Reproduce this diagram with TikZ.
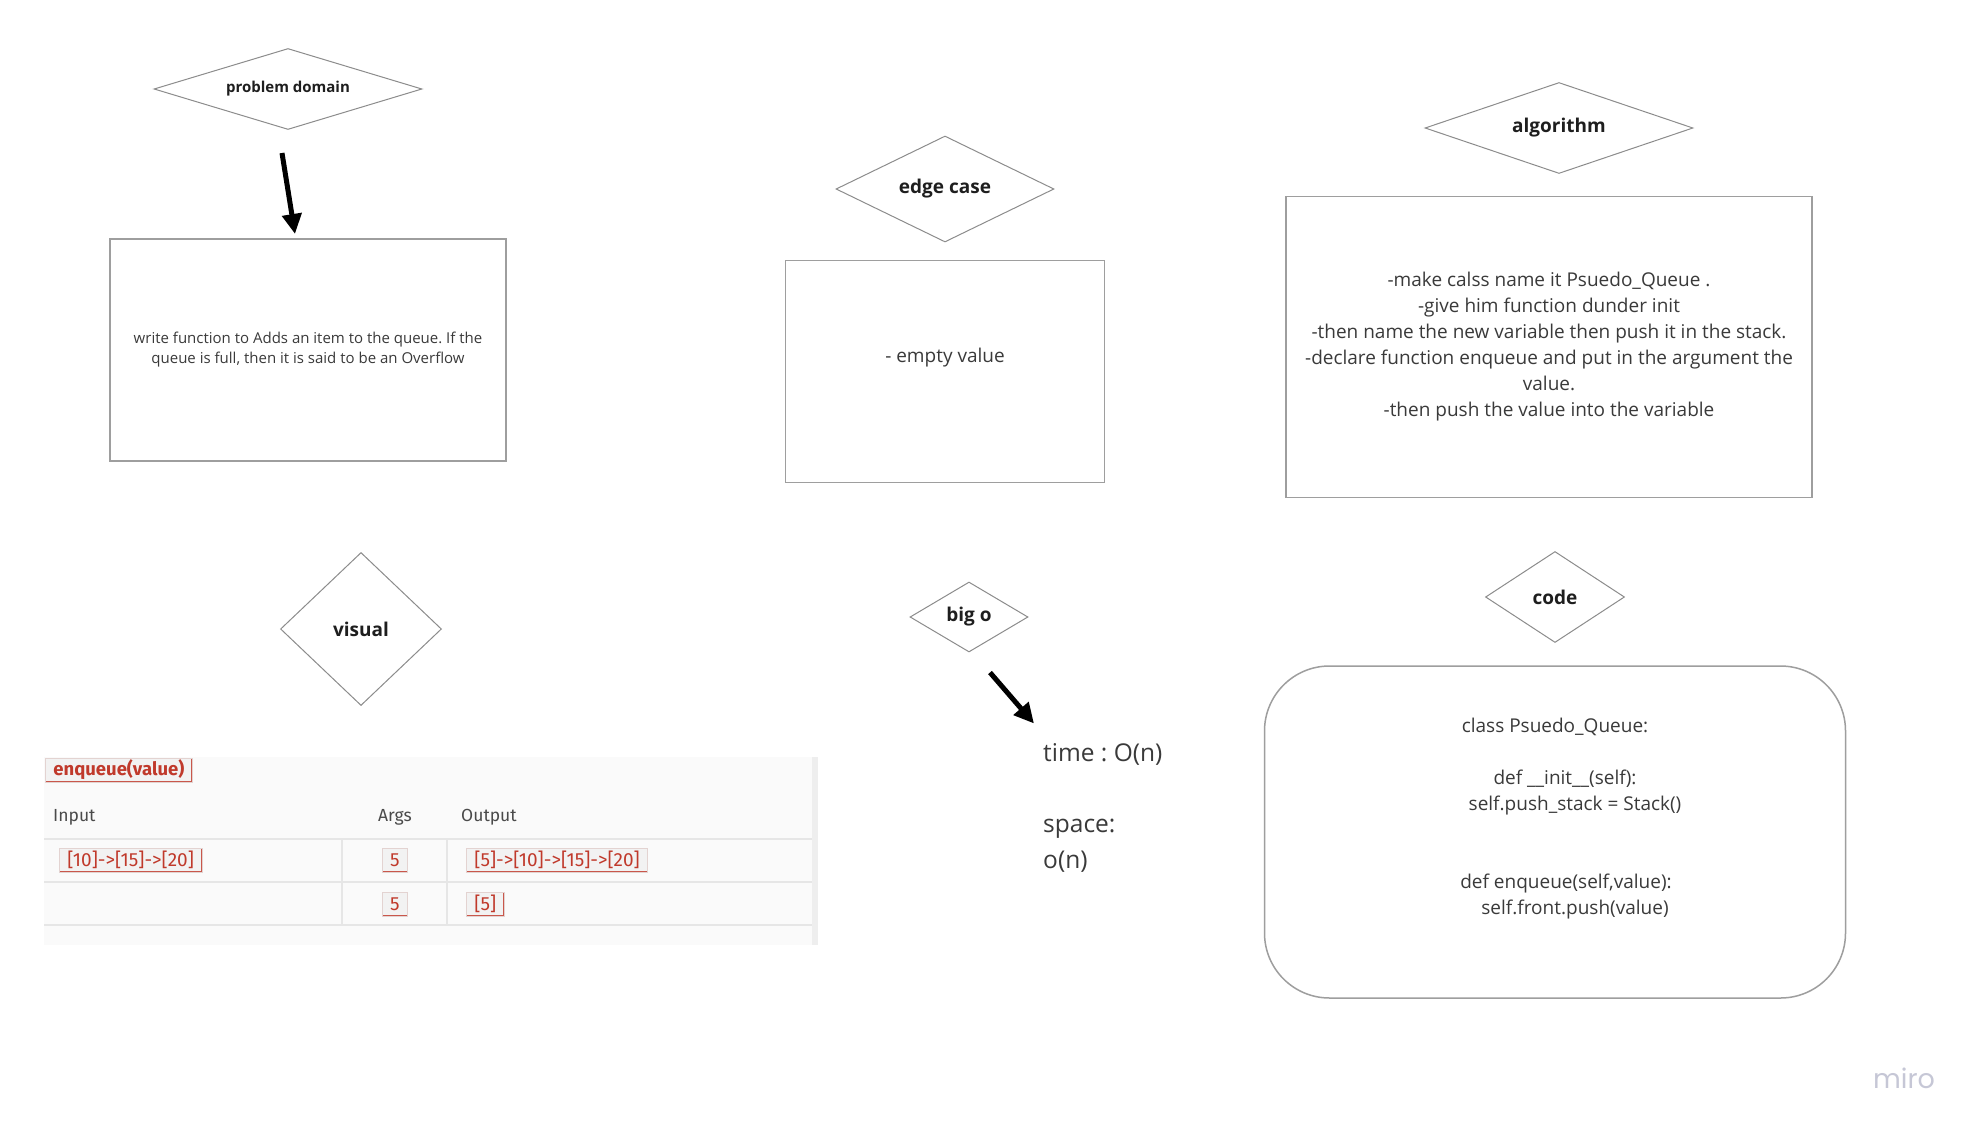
\documentclass[tikz,border=0pt]{standalone}
\usepackage{fontspec}
\setmainfont{Open Sans}
\newfontfamily\tablefont{Fira Sans}
\newfontfamily\logofont{Poppins}
\usepackage{xcolor}
\usepackage{tikz}
\usetikzlibrary{shapes,arrows.meta,positioning}
\frenchspacing

\definecolor{diamondgray}{HTML}{8C8C8C}
\definecolor{boxgray}{HTML}{9E9E9E}
\definecolor{bodytext}{HTML}{3A3A3A}
\definecolor{labelblack}{HTML}{1E1E1E}
\definecolor{chipred}{HTML}{C0392B}
\definecolor{chipfill}{HTML}{F2F2F2}
\definecolor{chipedge}{HTML}{E3D3D1}
\definecolor{tablebg}{HTML}{FAFAFA}
\definecolor{tableline}{HTML}{E6E6E6}
\definecolor{tableedge}{HTML}{EEEEEE}
\definecolor{headtext}{HTML}{4A4A4A}
\definecolor{mirogray}{HTML}{C6C7D6}

\begin{document}
\begin{tikzpicture}[
    x=1pt, y=-1pt,
    decision/.style={diamond, draw=diamondgray, line width=1pt, inner sep=0pt, text=labelblack, font=\fontsize{19pt}{22pt}\selectfont\bfseries},
    note/.style={rectangle, draw=boxgray, line width=1.5pt, align=center, text=bodytext, font=\fontsize{19pt}{26pt}\selectfont},
    plain/.style={align=center, text=bodytext, inner sep=0pt, font=\fontsize{19pt}{26pt}\selectfont},
    chip/.style={rectangle, fill=chipfill, draw=chipedge, line width=0.8pt, text=chipred, inner xsep=8pt, inner ysep=0pt, minimum height=24pt, font=\tablefont\fontsize{19pt}{22pt}\selectfont,
        path picture={\draw[chipred!85, line width=2.4pt] (path picture bounding box.north east) -- (path picture bounding box.south east) -- (path picture bounding box.south west);}},
    head/.style={anchor=west, text=headtext, inner sep=0pt, font=\tablefont\fontsize{17.5pt}{20pt}\selectfont},
    bigarrow/.style={-{Triangle[length=20pt,width=19pt]}, line width=5pt}
]
\fill[white] (0,0) rectangle (1981,1135);
\useasboundingbox (0,0) rectangle (1981,1135);

% Top row - diamonds and their boxes
\node[decision, font=\fontsize{15pt}{18pt}\selectfont\bfseries, minimum width=268pt, minimum height=81pt, aspect=3.3] (pd) at (288,89) {problem domain};
\node[note, minimum width=396pt, minimum height=222pt, font=\fontsize{15pt}{20pt}\selectfont, below=108pt of pd, xshift=20pt] (pbox) {write function to Adds an item to the queue. If the\\queue is full, then it is said to be an Overflow};

\node[decision, minimum width=218pt, minimum height=106pt, aspect=2.05] (edge) at (945,189) {edge case};
\node[note, minimum width=319pt, minimum height=222pt, below=17pt of edge] (ebox) {};
\node[plain] (etxt) at ([yshift=14pt]ebox.center) {- empty value};

\node[decision, minimum width=268pt, minimum height=91pt, aspect=2.95] (algo) at (1559,128) {algorithm};
\node[note, minimum width=526pt, minimum height=301pt] (abox) at (1549,347) {-make calss name it Psuedo\_Queue .\\-give him function dunder init\\-then name the new variable then push it in the stack.\\-declare function enqueue and put in the argument the\\value.\\-then push the value into the variable};

% Bottom row - visual, big o and code
\node[decision, minimum width=161pt, minimum height=153pt, aspect=1.05] (vis) at (361,629) {visual};
\node[decision, minimum width=118pt, minimum height=70pt, aspect=1.7] (bigo) at (969,617) {big o};
\node[decision, minimum width=139pt, minimum height=91pt, aspect=1.53] (code) at (1555,597) {code};

\node[plain, align=left, anchor=west, font=\fontsize{24.5pt}{35.5pt}\selectfont] (cost) at (1043,808) {time : O(n)\\[35.5pt]space:\\o(n)};

\node[rectangle, draw=boxgray, line width=1.5pt, rounded corners=65pt, minimum width=581pt, minimum height=332pt] (cbox) at (1555,832) {};
\node[plain] (ctxt) at ([yshift=13pt]cbox.center) {class Psuedo\_Queue:\\[26pt]\hspace*{20pt}def \_\_init\_\_(self):\\\hspace*{40pt}self.push\_stack = Stack()\\[52pt]\hspace*{22pt}def enqueue(self,value):\\\hspace*{40pt}self.front.push(value)};

% Arrows
\draw[bigarrow] ([xshift=-6pt,yshift=-23pt]pd.south) -- ([xshift=-13pt,yshift=4pt]pbox.north);
\coordinate (bo1) at ([xshift=21pt,yshift=-20pt]bigo.south);
\coordinate (bo2) at ([xshift=65pt,yshift=-71pt]bigo.south);
\draw[bigarrow] (bo1) -- (bo2);

% Table for visual
\fill[tablebg] (44,757) rectangle (812,945);
\fill[tableedge] (812,757) rectangle (818,945);
\foreach \ry in {839,882,925}
  \draw[tableline, line width=2pt] (44,\ry) -- (812,\ry);
\foreach \cx in {342,447}
  \draw[tableline, line width=2pt] (\cx,839) -- (\cx,925);

\node[chip, anchor=west, font=\tablefont\fontsize{18.5pt}{22pt}\selectfont\bfseries] (fn) at (45,770) {enqueue(value)};
\node[head] (hin) at (53,817) {Input};
\node[head] (hargs) at (378,817) {Args};
\node[head] (hout) at (461,817) {Output};

\node[chip, anchor=west] (in1) at (59,860) {[10]->[15]->[20]};
\node[chip] (arg1) at (395,860) {5};
\node[chip, anchor=west] (out1) at (466,860) {[5]->[10]->[15]->[20]};
\node[chip] (arg2) at (395,904) {5};
\node[chip, anchor=west] (out2) at (466,904) {[5]};

% Logo
\node[text=mirogray, font=\logofont\fontsize{27pt}{30pt}\selectfont] (logo) at (1904,1078) {miro};

\end{tikzpicture}
\end{document}
